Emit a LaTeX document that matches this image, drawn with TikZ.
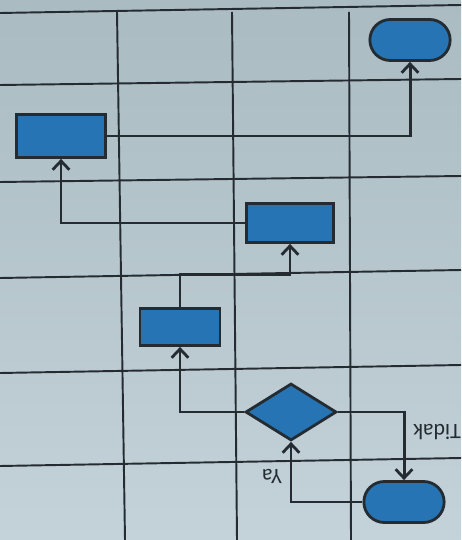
\documentclass[tikz,border=0pt]{standalone}
\usepackage{fontspec}
\setmainfont{Carlito}
\usetikzlibrary{shapes.geometric,shapes.misc,arrows.meta}

\definecolor{latatas}{RGB}{170,187,194}
\definecolor{latbawah}{RGB}{196,210,217}
\definecolor{biru}{RGB}{38,116,180}
\definecolor{tinta}{RGB}{36,44,50}

\begin{document}
\begin{tikzpicture}[x=0.02cm,y=-0.02cm,
  garis/.style={draw=tinta, line width=1.1pt},
  kotak/.style={draw=tinta, line width=1.6pt, fill=biru},
  ujung/.style={kotak, rounded rectangle, minimum width=1.84cm, minimum height=0.82cm},
  alur/.style={draw=tinta, line width=1.7pt,
    -{Straight Barb[length=5pt,width=9.5pt,line width=1.6pt]}},
  teks/.style={text=tinta, font=\fontsize{12.5}{14}\selectfont, rotate=180, inner sep=1pt}]

  % latar dan kisi
  \shade[top color=latatas, bottom color=latbawah] (0,0) rectangle (461,540);
  \useasboundingbox (0,0) rectangle (461,540);
  \foreach \ya/\yb in {13/5, 85/79, 182/176, 278/270, 373/365, 466/458}
    \draw[garis] (0,\ya) -- (461,\yb);
  \foreach \xa/\xb in {117/125, 232/237, 349/351}
    \draw[garis] (\xa,12) -- (\xb,540);

  % simbol
  \node[ujung] (mulai) at (404,502) {};
  \node[kotak, diamond, minimum width=1.82cm, minimum height=1.14cm] (kondisi) at (291,412) {};
  \node[kotak, minimum width=1.6cm, minimum height=0.74cm] (proses1) at (180,327) {};
  \node[kotak, minimum width=1.74cm, minimum height=0.78cm] (proses2) at (290,223) {};
  \node[kotak, minimum width=1.78cm, minimum height=0.86cm] (proses3) at (61,136) {};
  \node[ujung] (selesai) at (410,40) {};

  % label
  \node[teks] (ya) at (272,476) {Ya};
  \node[teks] (tidak) at (437,432) {Tidak};

  % alur
  \draw[alur] (mulai.west) -| (kondisi.south);
  \draw[alur] (kondisi.east) -| (mulai.north);
  \draw[alur] (kondisi.west) -| (proses1.south);
  \draw[alur] (proses1.north) -- ++(0,-33) -| (proses2.south);
  \draw[alur] (proses2.west) -| (proses3.south);
  \draw[alur] (proses3.east) -| (selesai.south);
\end{tikzpicture}
\end{document}
